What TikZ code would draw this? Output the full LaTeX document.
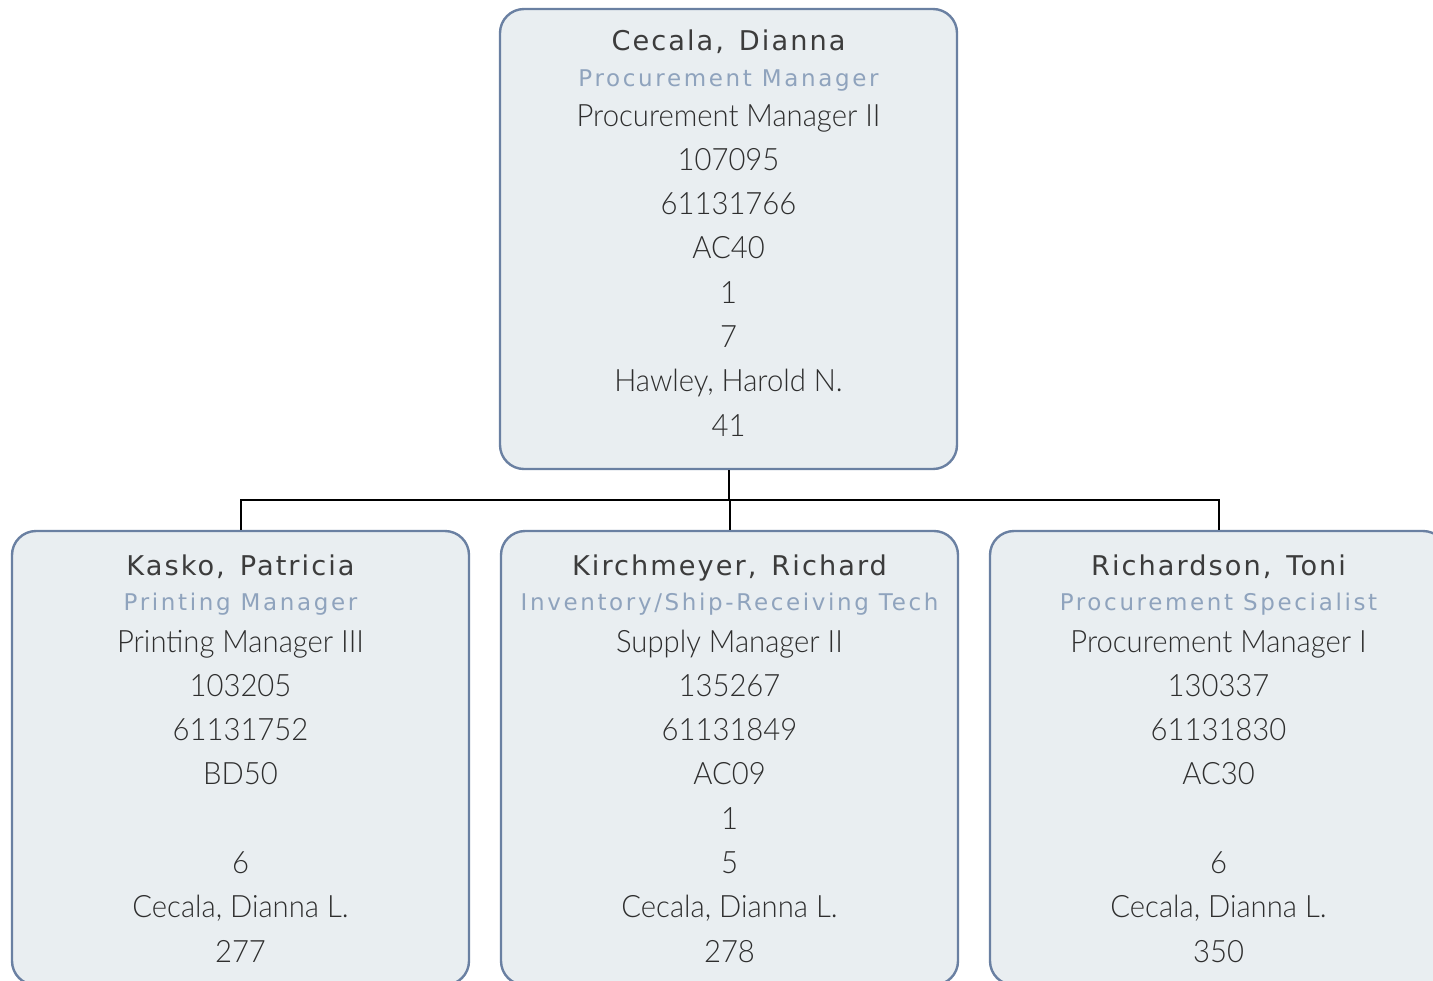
\documentclass[tikz,border=0pt]{standalone}
\usepackage{fontspec}
\newfontfamily\namefont[LetterSpace=7.5, WordSpace=1.4]{DejaVu Sans}
\newfontfamily\rolefont[LetterSpace=11.5]{DejaVu Sans}
\newfontfamily\infofont[FakeStretch=0.95]{Lato Light}
\definecolor{cardline}{HTML}{6A80A2}
\definecolor{cardfill}{HTML}{E9EEF1}
\definecolor{nametext}{HTML}{3C3C3C}
\definecolor{roletext}{HTML}{8FA3BD}
\definecolor{infotext}{HTML}{2E2E2E}

\begin{document}
\begin{tikzpicture}[x=0.5pt, y=-0.5pt,
  card/.style={draw=cardline, fill=cardfill, line width=1.2pt, rounded corners=12pt, minimum width=228.5pt, inner sep=0pt},
  person/.style={anchor=base, text=nametext, font={\namefont\fontsize{13.6}{15}\selectfont}, inner sep=0pt},
  role/.style={anchor=base, text=roletext, font={\rolefont\fontsize{11.5}{13}\selectfont}, inner sep=0pt},
  info/.style={anchor=base, text=infotext, font={\infofont\fontsize{15.4}{18}\selectfont}, inner sep=0pt},
  link/.style={draw=black, line width=1pt}]
  \useasboundingbox (0,0) rectangle (1433,980);

  % Top card
  \node[card, minimum height=230pt] (cecala) at (728.5,239) {};
  \node[person] (cecala-name) at (728.5,50) {Cecala, Dianna};
  \node[role] (cecala-role) at (728.5,86) {Procurement Manager};
  \foreach \txt [count=\i] in {Procurement Manager II, 107095, 61131766, AC40, 1, 7, {Hawley, Harold N.}, 41}
    \node[info] (cecala-\i) at (728.5,{126+44.3*(\i-1)}) {\txt};

  % Bottom cards
  \node[card, minimum height=227pt] (kasko) at (240.5,758) {};
  \node[person] (kasko-name) at (240.5,575) {Kasko, Patricia};
  \node[role] (kasko-role) at (240.5,610) {Printing Manager};
  \foreach \txt [count=\i] in {Printing Manager III, 103205, 61131752, BD50, {}, 6, {Cecala, Dianna L.}, 277}
    \node[info] (kasko-\i) at (240.5,{652+44.3*(\i-1)}) {\txt};

  \node[card, minimum height=227pt] (kirchmeyer) at (729.5,758) {};
  \node[person] (kirchmeyer-name) at (729.5,575) {Kirchmeyer, Richard};
  \node[role] (kirchmeyer-role) at (729.5,610) {Inventory/Ship-Receiving Tech};
  \foreach \txt [count=\i] in {Supply Manager II, 135267, 61131849, AC09, 1, 5, {Cecala, Dianna L.}, 278}
    \node[info] (kirchmeyer-\i) at (729.5,{652+44.3*(\i-1)}) {\txt};

  \node[card, minimum height=227pt] (richardson) at (1218.5,758) {};
  \node[person] (richardson-name) at (1218.5,575) {Richardson, Toni};
  \node[role] (richardson-role) at (1218.5,610) {Procurement Specialist};
  \foreach \txt [count=\i] in {Procurement Manager I, 130337, 61131830, AC30, {}, 6, {Cecala, Dianna L.}, 350}
    \node[info] (richardson-\i) at (1218.5,{652+44.3*(\i-1)}) {\txt};

  % Connectors
  \coordinate (bus) at (728.5,500);
  \draw[link] (cecala.south) -- (bus);
  \draw[link] (bus) -| (kasko.north);
  \draw[link] (bus) -| (kirchmeyer.north);
  \draw[link] (bus) -| (richardson.north);
\end{tikzpicture}
\end{document}
